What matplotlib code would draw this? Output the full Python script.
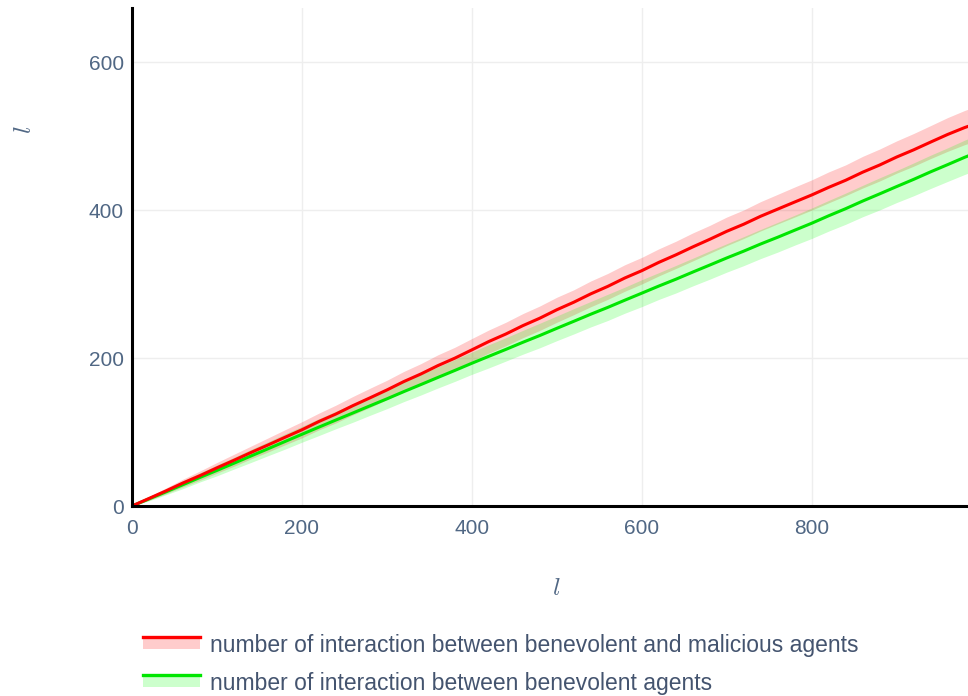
import matplotlib
matplotlib.use("Agg")
import matplotlib.pyplot as plt
import numpy as np
from matplotlib.legend_handler import HandlerBase
from matplotlib.patches import Rectangle
from matplotlib.lines import Line2D

# ---- data ----
x_vals = [0, 20, 40, 60, 80, 100, 120, 140, 160, 180, 200, 220, 240, 260, 280, 300,
          320, 340, 360, 380, 400, 420, 440, 460, 480, 500, 520, 540, 560, 580, 600,
          620, 640, 660, 680, 700, 720, 740, 760, 780, 800, 820, 840, 860, 880, 900,
          920, 940, 960, 980, 984]

red_mean = [0, 10.2, 20.4, 31.1, 41.0, 51.6, 61.8, 72.3, 82.4, 92.8, 103.0, 114.2, 124.3,
            135.6, 146.1, 156.8, 168.2, 178.4, 189.7, 199.8, 211.0, 222.3, 232.4, 243.7,
            253.8, 265.2, 275.4, 286.7, 296.8, 308.1, 318.0, 329.2, 339.3, 350.1, 360.4,
            371.2, 380.8, 391.6, 401.2, 410.8, 420.3, 430.6, 440.2, 451.1, 460.8, 471.6,
            481.3, 491.8, 502.1, 511.4, 513.0]
red_band = [0, 2.5, 4.0, 5.2, 6.3, 7.2, 8.1, 8.6, 9.5, 10.2, 10.9, 11.3, 12.0, 12.4, 13.0,
            13.1, 13.7, 14.0, 14.6, 14.7, 15.3, 15.6, 15.9, 16.3, 16.5, 16.9, 16.8, 17.4,
            17.5, 17.9, 18.0, 18.3, 18.4, 18.9, 18.8, 19.3, 19.3, 19.8, 20.0, 20.3, 20.4,
            20.9, 20.8, 21.4, 21.6, 21.8, 22.1, 22.3, 22.8, 23.1, 23.2]

green_mean = [0, 9.6, 19.1, 28.8, 38.6, 48.1, 57.8, 67.6, 77.3, 87.1, 96.9, 106.6,
              116.2, 125.7, 135.3, 144.8, 154.6, 164.1, 173.7, 183.2, 192.9, 202.3,
              211.6, 221.2, 230.4, 240.1, 249.6, 259.2, 268.4, 278.1, 287.6, 297.2,
              306.4, 316.1, 325.6, 335.2, 344.4, 354.1, 363.2, 372.7, 382.1, 392.2,
              401.8, 412.1, 421.8, 431.7, 441.4, 451.6, 461.3, 471.2, 473.0]
green_band = [0, 2.6, 3.9, 5.3, 6.1, 7.3, 7.9, 8.8, 9.4, 10.3, 10.7, 11.4, 11.8, 12.5,
              12.8, 13.3, 13.5, 14.1, 14.3, 14.8, 15.0, 15.7, 15.8, 16.1, 16.6, 16.7,
              17.1, 17.2, 17.7, 17.6, 18.2, 18.1, 18.6, 18.7, 19.1, 19.2, 19.6, 19.7,
              20.1, 20.2, 20.6, 20.7, 21.1, 21.2, 21.7, 21.6, 22.2, 22.5, 22.7, 23.2, 23.3]

series_names = ["number of interaction between benevolent and malicious agents",
                "number of interaction between benevolent agents"]
x_ticks = [0, 200, 400, 600, 800]
y_ticks = [0, 200, 400, 600]

# ---- style ----
RED = "#ff0000"
GREEN = "#00e600"
RED_FILL = (1.0, 0.0, 0.0, 0.2)
GREEN_FILL = (0.0, 1.0, 0.0, 0.2)
TXT = "#506784"
LEG_TXT = "#44546f"

plt.rcParams["font.family"] = ["Liberation Sans", "DejaVu Sans"]
plt.rcParams["mathtext.fontset"] = "cm"

fig = plt.figure(figsize=(9.68, 6.96), dpi=100)
ax = fig.add_axes([132 / 968, (696 - 506) / 696, 836 / 968, 498 / 696])

x = np.array(x_vals)
rm, rb = np.array(red_mean), np.array(red_band)
gm, gb = np.array(green_mean), np.array(green_band)

ax.fill_between(x, rm - rb, rm + rb, color=RED_FILL, linewidth=0, zorder=2)
ax.fill_between(x, gm - gb, gm + gb, color=GREEN_FILL, linewidth=0, zorder=2)
ax.plot(x, gm, color=GREEN, lw=2.2, zorder=3, solid_joinstyle="round")
ax.plot(x, rm, color=RED, lw=2.2, zorder=4, solid_joinstyle="round")

ax.set_xlim(0, 984)
ax.set_ylim(0, 673)
ax.set_xticks(x_ticks)
ax.set_yticks(y_ticks)
ax.grid(True, color="#eeeeee", lw=1.0, zorder=0)
ax.set_axisbelow(True)

for s in ["top", "right"]:
    ax.spines[s].set_visible(False)
for s in ["left", "bottom"]:
    ax.spines[s].set_color("black")
    ax.spines[s].set_linewidth(2.2)
    ax.spines[s].set_zorder(5)

ax.tick_params(axis="both", length=0, labelsize=15, labelcolor=TXT)
ax.tick_params(axis="x", pad=9)
ax.tick_params(axis="y", pad=6)

fig.text(556 / 968, 1 - 588 / 696, r"$l$", fontsize=18, color=TXT, ha="center", va="center")
fig.text(24 / 968, 1 - 130 / 696, r"$l$", fontsize=18, color=TXT, ha="center", va="center",
         rotation=90)


class BandLineHandler(HandlerBase):
    def __init__(self, line_color, fill_color):
        super().__init__()
        self.lc = line_color
        self.fc = fill_color

    def create_artists(self, legend, orig_handle, xdescent, ydescent, width, height,
                       fontsize, trans):
        top = -ydescent + height * 0.92
        rect = Rectangle((-xdescent, top - height * 0.75), width, height * 0.75,
                         facecolor=self.fc, edgecolor="none", transform=trans)
        ln = Line2D([-xdescent, -xdescent + width], [top, top],
                    color=self.lc, lw=2.4, transform=trans)
        return [rect, ln]


h1 = Line2D([], [], color=RED)
h2 = Line2D([], [], color=GREEN)
fig.legend([h1, h2], series_names,
           handler_map={h1: BandLineHandler(RED, RED_FILL),
                        h2: BandLineHandler(GREEN, GREEN_FILL)},
           loc="upper left", bbox_to_anchor=(136 / 968, 1 - 627 / 696),
           frameon=False, fontsize=16.5, labelcolor=LEG_TXT, handlelength=2.5,
           handletextpad=0.44, labelspacing=0.66, borderaxespad=0, borderpad=0.3)

fig.savefig("out.png", dpi=100)
